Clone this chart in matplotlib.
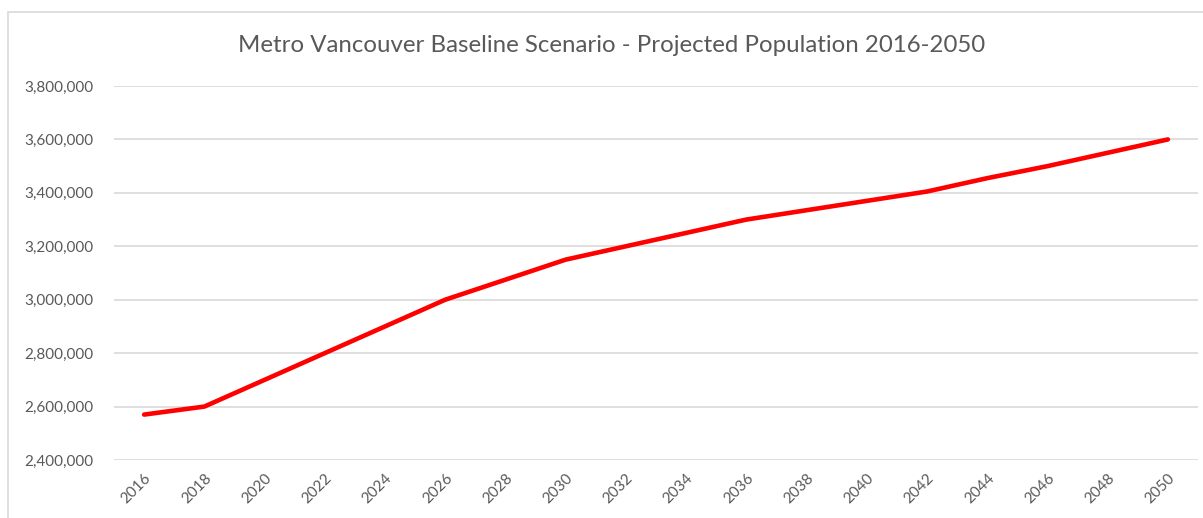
import matplotlib.pyplot as plt
from matplotlib.patches import Rectangle
from matplotlib.ticker import FuncFormatter

years = [str(y) for y in range(2016, 2051, 2)]
population = [2570000, 2600000, 2700000, 2800000, 2900000, 3000000,
              3075000, 3150000, 3200000, 3250000, 3300000, 3335000,
              3370000, 3405000, 3455000, 3500000, 3550000, 3600000]
y_ticks = [2400000, 2600000, 2800000, 3000000, 3200000, 3400000, 3600000, 3800000]

plt.rcParams['font.family'] = ['Lato', 'DejaVu Sans']
text_color = '#595959'

W, H = 1203, 518
fig = plt.figure(figsize=(W / 100, H / 100), dpi=100)
ax = fig.add_axes([114 / W, 1 - 460 / H, (1198 - 114) / W, (460 - 86) / H])

# outer chart frame
fig.patches.append(Rectangle((8 / W, -0.05), 1.1, (H - 12) / H + 0.05,
                             transform=fig.transFigure, fill=False,
                             edgecolor='#d9d9d9', linewidth=1.2))

ax.plot(range(len(years)), population, color='#ff0000', linewidth=3.3,
        solid_capstyle='round', solid_joinstyle='round', zorder=3)

ax.set_xlim(-0.5, len(years) - 0.5)
ax.set_ylim(y_ticks[0], y_ticks[-1])
ax.set_yticks(y_ticks)
ax.yaxis.set_major_formatter(FuncFormatter(lambda v, p: f'{int(v):,}'))
ax.set_xticks(range(len(years)))
ax.set_xticklabels(years, rotation=45, ha='right', rotation_mode='anchor')

ax.grid(axis='y', color='#d9d9d9', linewidth=1.2)
ax.set_axisbelow(True)
for s in ax.spines.values():
    s.set_visible(False)
ax.tick_params(length=0, colors=text_color, labelsize=11)
ax.tick_params(axis='y', pad=15)
ax.tick_params(axis='x', pad=8)

fig.text(612 / W, 1 - 45 / H, 'Metro Vancouver Baseline Scenario - Projected Population 2016-2050',
         ha='center', va='center', fontsize=17.3, color=text_color)

fig.savefig('out.png', dpi=100, facecolor='white')
